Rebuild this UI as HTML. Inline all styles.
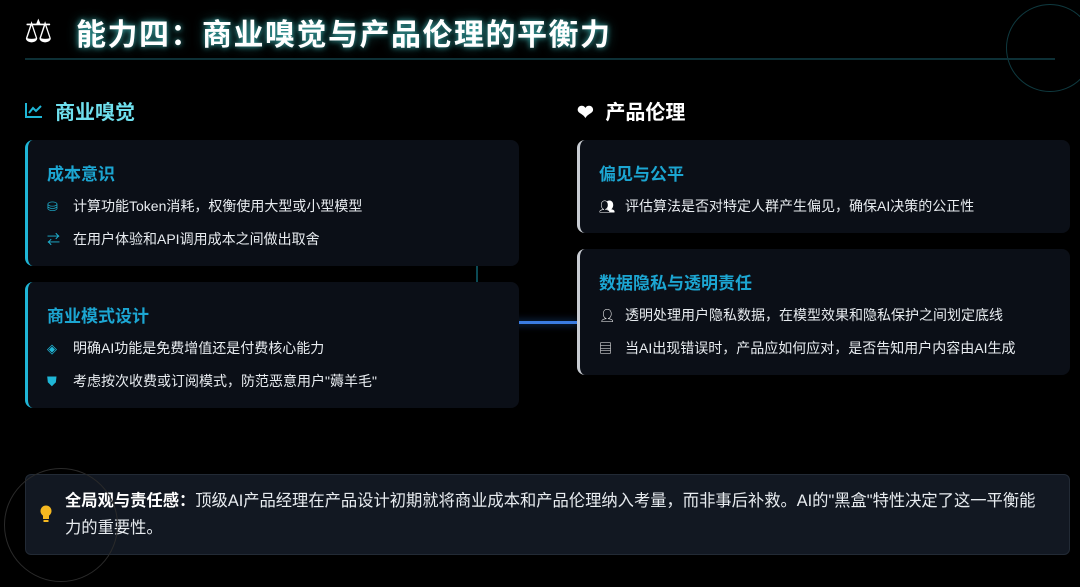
<!DOCTYPE html>
<html><head><meta charset="utf-8"><style>
*{margin:0;padding:0;box-sizing:border-box}
body{width:1080px;height:587px;background:#000;font-family:"Liberation Sans","Noto Sans CJK SC",sans-serif;position:relative;overflow:hidden;color:#fff}
.abs{position:absolute}
h1{position:absolute;left:76px;top:10px;font-size:30px;font-weight:bold;letter-spacing:1.5px;color:#fff;text-shadow:0 0 6px rgba(80,230,230,.7),0 0 12px rgba(60,200,200,.4)}
.card{position:absolute;background:#0b0f17;border-radius:8px;border-left:3px solid #1fb6d6}
.card.r{border-left-color:#c8ccd2}
.ct{position:absolute;left:19px;font-size:17px;font-weight:bold;color:#1ca6d2}
.li{position:absolute;left:19px;font-size:14px;color:#e8ecf0;white-space:nowrap}
.li i{display:inline-block;width:26px;font-style:normal;color:#1fb6d6;font-size:13px}
.r .li i{color:#fff}
.sec{position:absolute;top:96px;font-size:20px;font-weight:bold}
</style></head><body>
<div class="abs" style="left:1006px;top:4px;width:88px;height:88px;border:1.5px solid #0f3a40;border-radius:50%"></div>
<div class="abs" style="left:4px;top:468px;width:114px;height:114px;border:1.5px solid #2a2a2a;border-radius:50%;z-index:3"></div>
<div class="abs" style="left:24px;top:12px;font-size:32px;color:#fff">⚖</div>
<h1>能力四：商业嗅觉与产品伦理的平衡力</h1>
<div class="abs" style="left:25px;top:58px;width:1030px;height:2px;background:#0d3036"></div>

<svg class="abs" style="left:25px;top:102px" width="18" height="16" viewBox="0 0 18 16"><path d="M1 1V15H17" stroke="#1fb6d6" stroke-width="2" fill="none"/><path d="M4 11L8 6L11 9L16 4" stroke="#1fb6d6" stroke-width="2" fill="none"/></svg>
<div class="sec" style="left:55px;color:#6fe0ee">商业嗅觉</div>
<div class="sec" style="left:577px;color:#fff"><span style="font-size:20px">❤</span> <span style="margin-left:6px">产品伦理</span></div>

<div class="abs" style="left:476px;top:262px;width:2px;height:24px;background:#0c4a55"></div>
<div class="abs" style="left:476px;top:321px;width:102px;height:3px;background:#3a7be0;box-shadow:0 0 8px #1a4a8a"></div>

<div class="card" style="left:25px;top:140px;width:494px;height:126px">
<div class="ct" style="top:20px">成本意识</div>
<div class="li" style="top:56px"><i>⛁</i>计算功能Token消耗，权衡使用大型或小型模型</div>
<div class="li" style="top:89px"><i>⇄</i>在用户体验和API调用成本之间做出取舍</div>
</div>
<div class="card" style="left:25px;top:282px;width:494px;height:126px">
<div class="ct" style="top:20px">商业模式设计</div>
<div class="li" style="top:56px"><i>◈</i>明确AI功能是免费增值还是付费核心能力</div>
<div class="li" style="top:89px"><i>⛊</i>考虑按次收费或订阅模式，防范恶意用户"薅羊毛"</div>
</div>
<div class="card r" style="left:577px;top:140px;width:493px;height:93px">
<div class="ct" style="top:20px">偏见与公平</div>
<div class="li" style="top:56px"><i>👥︎</i>评估算法是否对特定人群产生偏见，确保AI决策的公正性</div>
</div>
<div class="card r" style="left:577px;top:249px;width:493px;height:126px">
<div class="ct" style="top:20px">数据隐私与透明责任</div>
<div class="li" style="top:56px"><i>👤︎</i>透明处理用户隐私数据，在模型效果和隐私保护之间划定底线</div>
<div class="li" style="top:89px"><i>▤</i>当AI出现错误时，产品应如何应对，是否告知用户内容由AI生成</div>
</div>

<div class="abs" style="left:25px;top:474px;width:1045px;height:81px;background:#121822;border:1px solid #222a35;border-radius:6px">
<svg class="abs" style="left:14px;top:30px" width="12" height="18" viewBox="0 0 12 18"><circle cx="6" cy="6" r="5.5" fill="#f5b820"/><rect x="3" y="10" width="6" height="4" fill="#f5b820"/><rect x="3.5" y="15" width="5" height="2" fill="#f5b820"/></svg>
<div class="abs" style="left:39px;top:13px;width:1020px;font-size:16.3px;line-height:27px;color:#e8ecf0;white-space:nowrap"><b style="color:#fff">全局观与责任感：</b>顶级AI产品经理在产品设计初期就将商业成本和产品伦理纳入考量，而非事后补救。AI的"黑盒"特性决定了这一平衡能<br>力的重要性。</div>
</div>
</body></html>
